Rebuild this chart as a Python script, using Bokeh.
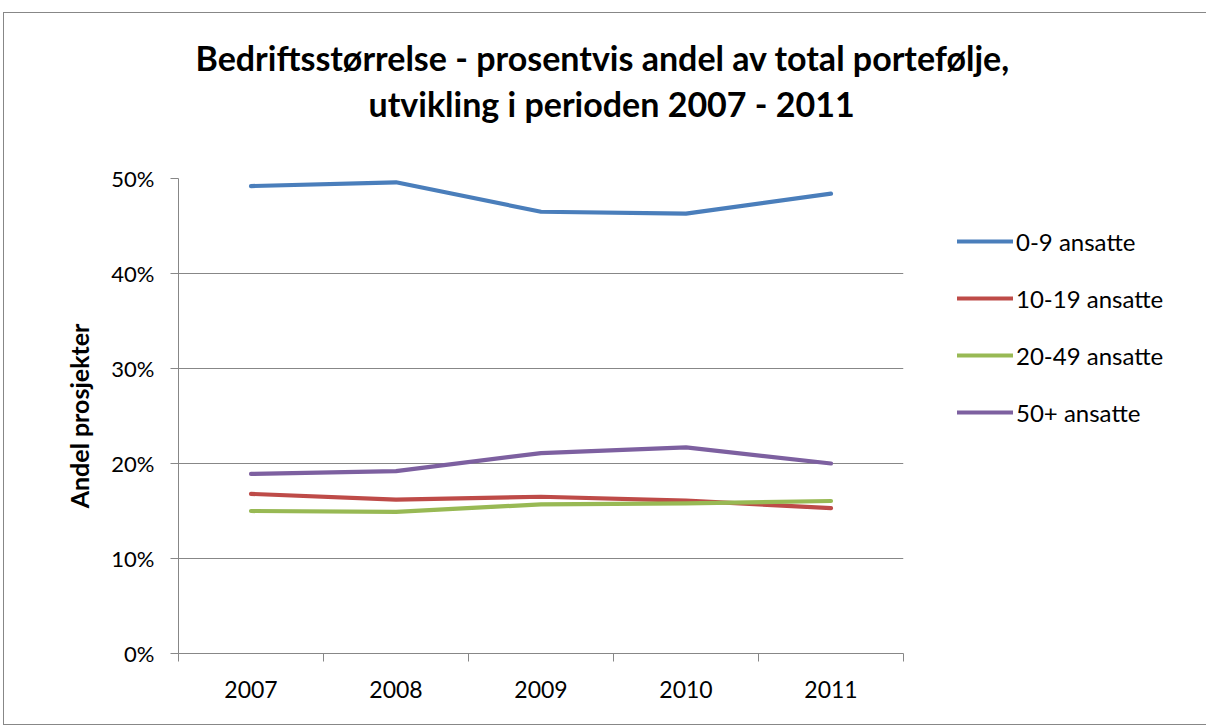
from bokeh.plotting import figure
from bokeh.models import (FixedTicker, PrintfTickFormatter, Legend, LegendItem, Title, Range1d)
from bokeh.embed import file_html
from bokeh.resources import INLINE

years = ["2007", "2008", "2009", "2010", "2011"]
series_names = ["0-9 ansatte", "10-19 ansatte", "20-49 ansatte", "50+ ansatte"]
s0_9 = [49.2, 49.6, 46.5, 46.3, 48.4]
s10_19 = [16.8, 16.2, 16.5, 16.1, 15.3]
s20_49 = [15.0, 14.9, 15.7, 15.8, 16.05]
s50p = [18.9, 19.2, 21.1, 21.7, 20.0]
colors = ["#4A7EBB", "#BE4B48", "#98B954", "#7D60A0"]
y_ticks = [0, 10, 20, 30, 40, 50]
title_lines = ["Bedriftsstørrelse - prosentvis andel av total portefølje,",
               "utvikling i perioden  2007 - 2011"]

FONT = "Lato"

p = figure(frame_width=725, frame_height=475, output_backend="svg", toolbar_location=None,
           x_range=Range1d(-0.5, 4.5), y_range=Range1d(0, 50), title=None,
           min_border_left=174, min_border_right=297, min_border_top=165, min_border_bottom=71)
p.margin = (12, 0, 0, 3)
p.styles = {"border": "1px solid #878787"}
p.outline_line_color = None
p.background_fill_color = "white"
p.border_fill_color = "white"

xs = list(range(len(years)))
renderers = []
for vals, c in zip([s0_9, s10_19, s20_49, s50p], colors):
    r = p.line(xs, vals, line_color=c, line_width=4.2, line_cap="round", line_join="round")
    renderers.append(r)

# axes
p.xaxis.ticker = FixedTicker(ticks=xs, minor_ticks=[i - 0.5 for i in range(len(years) + 1)])
p.xaxis.major_label_overrides = {i: y for i, y in enumerate(years)}
p.xaxis.major_tick_out = 0
p.xaxis.major_tick_in = 0
p.xaxis.minor_tick_out = 8
p.xaxis.minor_tick_in = 0
p.xaxis.minor_tick_line_color = "#878787"
p.xaxis.axis_line_color = "#878787"
p.xaxis.major_label_standoff = 19
p.xaxis.major_label_text_font = FONT
p.xaxis.major_label_text_font_size = "23px"
p.xaxis.major_label_text_color = "black"

p.yaxis.ticker = FixedTicker(ticks=y_ticks, minor_ticks=[])
p.yaxis.formatter = PrintfTickFormatter(format="%d%%")
p.yaxis.major_tick_out = 8
p.yaxis.major_tick_in = 0
p.yaxis.major_tick_line_color = "#878787"
p.yaxis.axis_line_color = "#878787"
p.yaxis.major_label_standoff = 16
p.yaxis.major_label_text_font = FONT
p.yaxis.major_label_text_font_size = "22px"
p.yaxis.major_label_text_color = "black"
p.yaxis.axis_label = "Andel prosjekter"
p.yaxis.axis_label_text_font = FONT
p.yaxis.axis_label_text_font_size = "25px"
p.yaxis.axis_label_text_font_style = "bold"
p.yaxis.axis_label_text_color = "black"
p.yaxis.axis_label_standoff = 14

p.xgrid.grid_line_color = None
p.ygrid.grid_line_color = "#878787"
p.ygrid.grid_line_width = 1

# title: spacer + two lines, stacked from the frame upward
p.add_layout(Title(text=" ", standoff=39, text_font=FONT, text_font_size="10px",
                   text_color="white"), "above")
p.add_layout(Title(text=title_lines[1], align="left", offset=190, standoff=4,
                   text_font=FONT, text_font_size="34px", text_font_style="bold",
                   text_color="black"), "above")
p.add_layout(Title(text=title_lines[0], align="left", offset=17, standoff=2,
                   text_font=FONT, text_font_size="34px", text_font_style="bold",
                   text_color="black"), "above")

legend = Legend(items=[LegendItem(label=n, renderers=[r]) for n, r in zip(series_names, renderers)],
                location=(54, 226), orientation="vertical",
                glyph_width=56, glyph_height=30, label_height=30, spacing=27,
                label_standoff=3, padding=0, margin=0,
                border_line_color=None, background_fill_alpha=0,
                label_text_font=FONT, label_text_font_size="24px", label_text_color="black")
p.add_layout(legend, "right")

open("out.html", "w").write(file_html(p, INLINE))
